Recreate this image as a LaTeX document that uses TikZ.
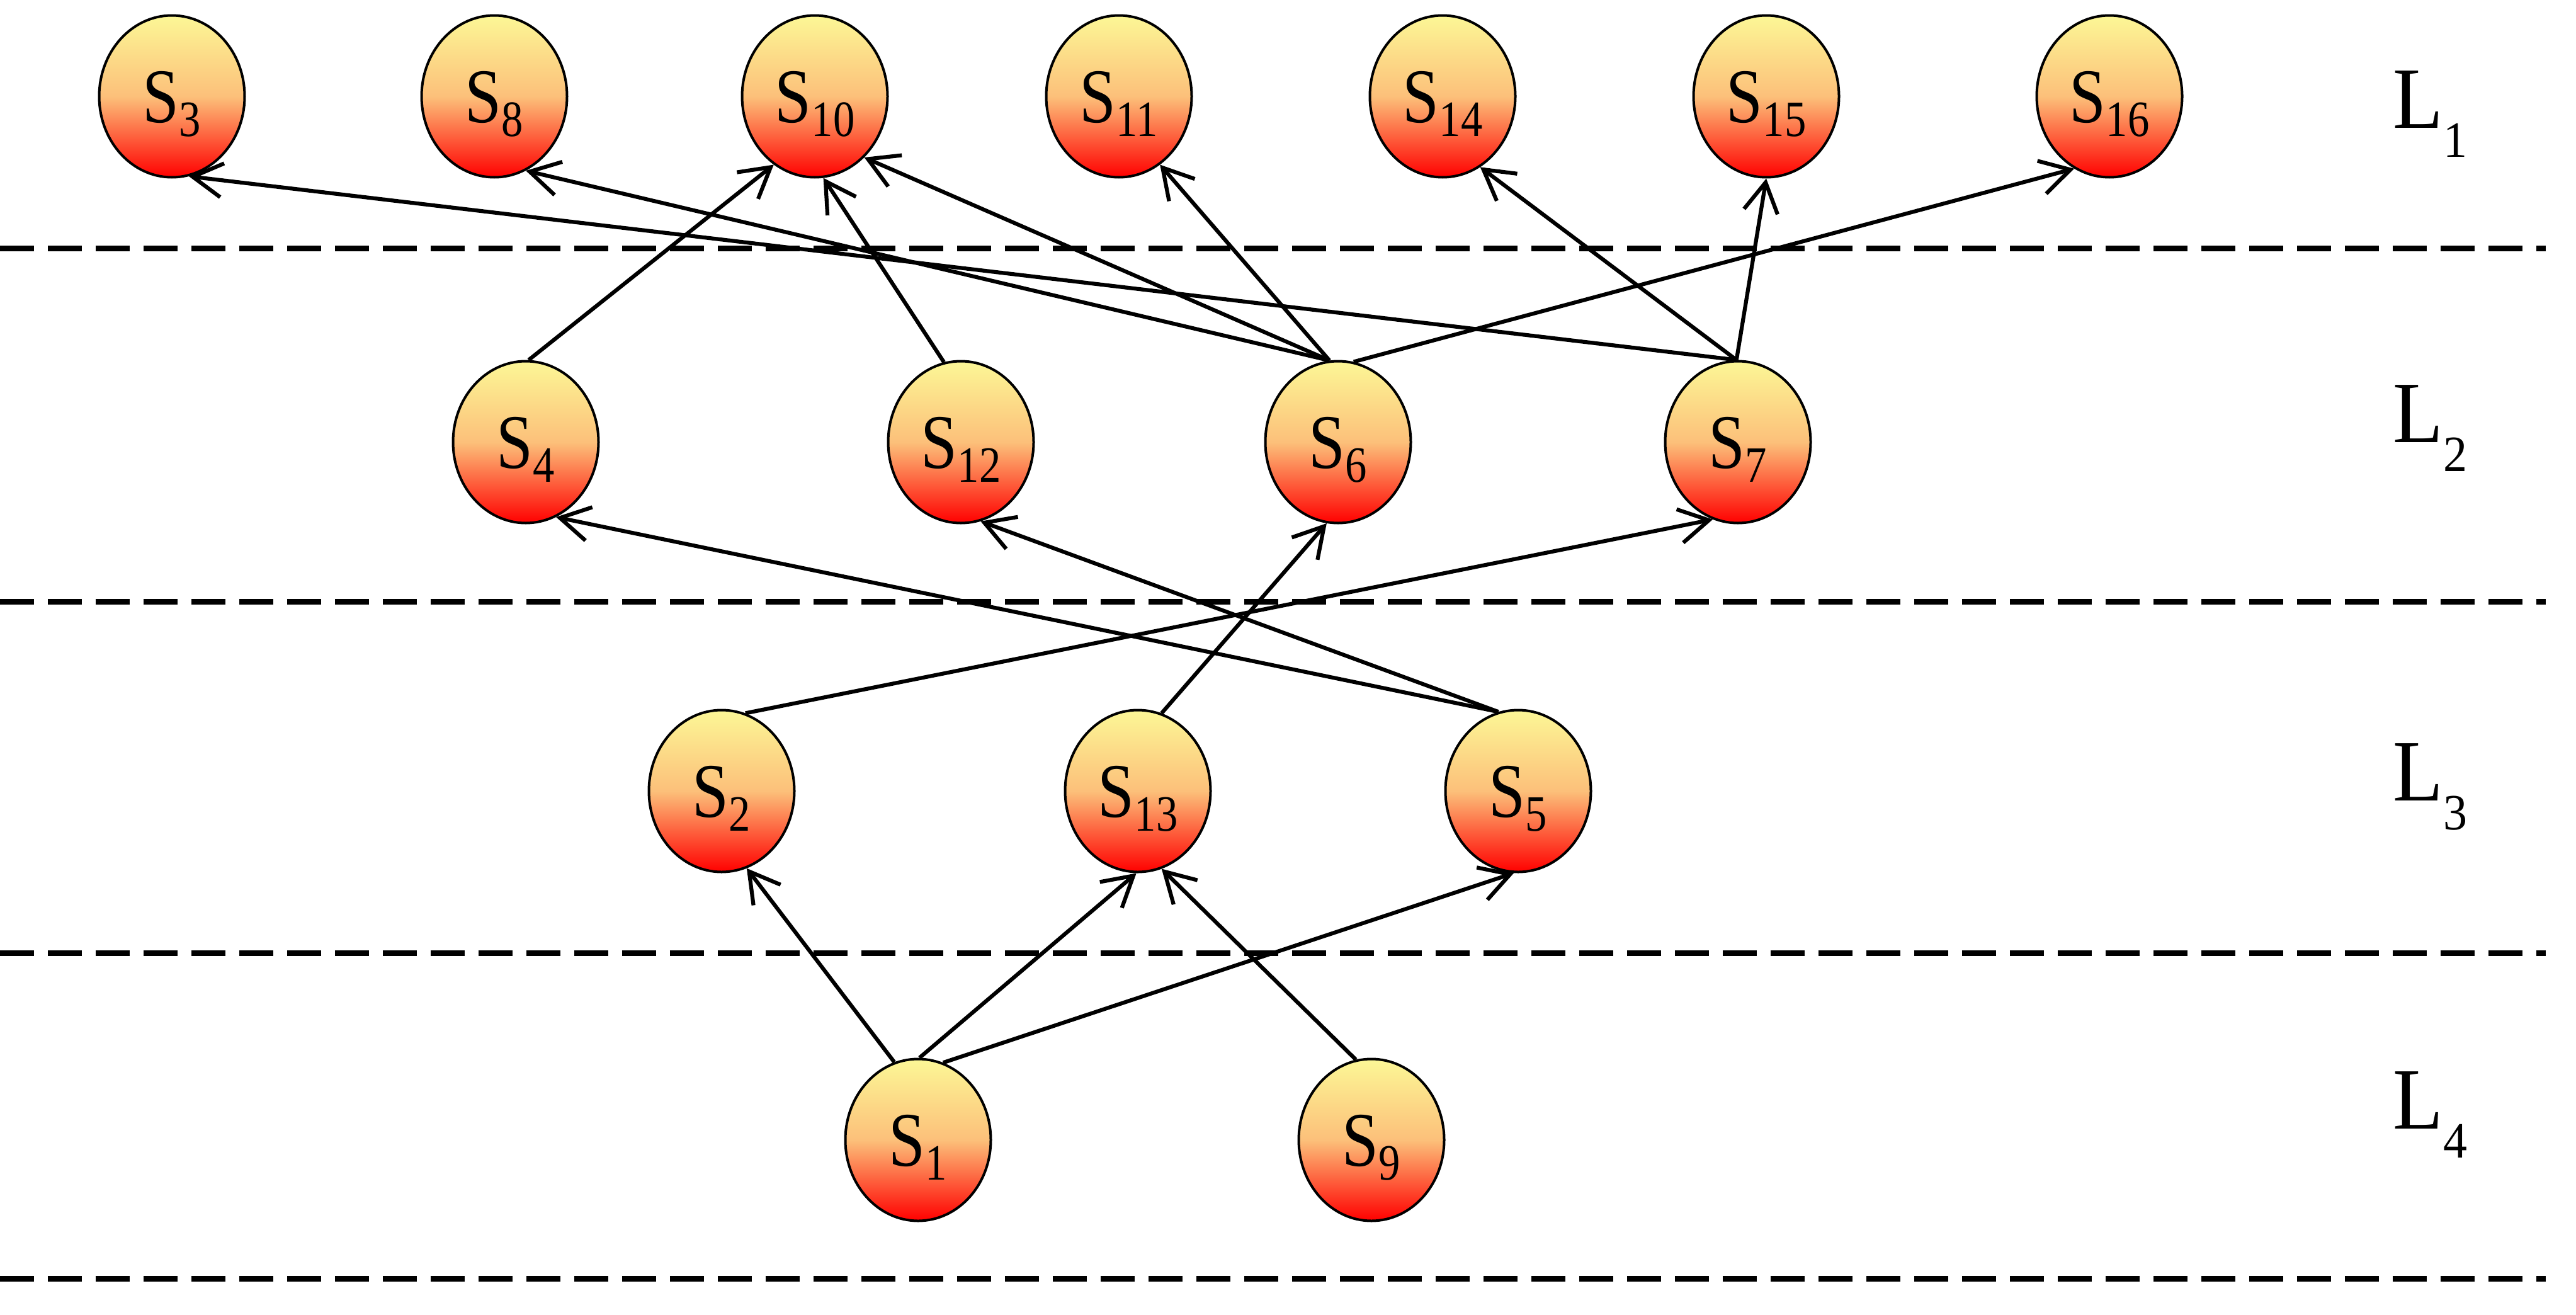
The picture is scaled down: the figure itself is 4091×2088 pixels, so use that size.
\documentclass[tikz,border=0pt]{standalone}
\usepackage{fontspec}
\setmainfont{Liberation Serif}
\newfontfamily\nodefont[FakeStretch=0.85]{Liberation Serif}
\newfontfamily\labfont[FakeStretch=0.94]{Liberation Serif}
\usetikzlibrary{arrows.meta,shapes.geometric}
\definecolor{topc}{RGB}{252,247,150}
\definecolor{midc}{RGB}{252,192,122}
\definecolor{botc}{RGB}{255,0,0}
\newcommand{\stsub}[1]{S\raisebox{-2.2mm}{\fontsize{23pt}{24pt}\selectfont #1}}
\newcommand{\lysub}[1]{L\raisebox{-4.6mm}{\fontsize{23pt}{24pt}\selectfont #1}}
\tikzset{
  state/.style={ellipse, draw=black, line width=0.4mm,
    minimum width=23.1mm, minimum height=25.7mm, inner sep=0pt,
    text height=8.3mm, text depth=0pt,
    top color=topc, bottom color=botc, middle color=midc,
    font=\nodefont\fontsize{34.9pt}{36pt}\selectfont},
  edgearrow/.style={-{Straight Barb[length=4.7mm,width=5.4mm]}, line width=0.62mm},
  layerline/.style={dash pattern=on 5.4mm off 2.2mm, line width=0.9mm},
  layerlab/.style={anchor=base west, inner sep=0pt,
    font=\labfont\fontsize{39.5pt}{40pt}\selectfont}
}
\begin{document}
\begin{tikzpicture}[x=0.1mm,y=-0.1mm]
\useasboundingbox (0,0) rectangle (4091,2088);

% layer separators
\coordinate (d1a) at (0,394);  \coordinate (d1b) at (4043,394);
\coordinate (d2a) at (0,955);  \coordinate (d2b) at (4043,955);
\coordinate (d3a) at (0,1513); \coordinate (d3b) at (4043,1513);
\coordinate (d4a) at (0,2030); \coordinate (d4b) at (4043,2030);
\draw[layerline] (d1a) -- (d1b);
\draw[layerline] (d2a) -- (d2b);
\draw[layerline] (d3a) -- (d3b);
\draw[layerline] (d4a) -- (d4b);

% layer labels
\node[layerlab] (L1) at (3800,203)  {\lysub{1}};
\node[layerlab] (L2) at (3800,702)  {\lysub{2}};
\node[layerlab] (L3) at (3800,1271) {\lysub{3}};
\node[layerlab] (L4) at (3800,1792) {\lysub{4}};

% L1 nodes
\node[state] (S3)  at (273,153)  {\stsub{3}};
\node[state] (S8)  at (785,153)  {\stsub{8}};
\node[state] (S10) at (1294,153) {\stsub{10}};
\node[state] (S11) at (1777,153) {\stsub{11}};
\node[state] (S14) at (2291,153) {\stsub{14}};
\node[state] (S15) at (2805,153) {\stsub{15}};
\node[state] (S16) at (3350,153) {\stsub{16}};
% L2 nodes
\node[state] (S4)  at (835,702)  {\stsub{4}};
\node[state] (S12) at (1526,702) {\stsub{12}};
\node[state] (S6)  at (2125,702) {\stsub{6}};
\node[state] (S7)  at (2760,702) {\stsub{7}};
% L3 nodes
\node[state] (S2)  at (1146,1256) {\stsub{2}};
\node[state] (S13) at (1807,1256) {\stsub{13}};
\node[state] (S5)  at (2411,1256) {\stsub{5}};
% L4 nodes
\node[state] (S1)  at (1458,1810) {\stsub{1}};
\node[state] (S9)  at (2178,1810) {\stsub{9}};

% edges
\draw[edgearrow] (S7.91)   -- (S3.-78);
\draw[edgearrow] (S7.91)   -- (S14.-62);
\draw[edgearrow] (S7.91)   -- (S15.-90);
\draw[edgearrow] (S6.96)   -- (S8.-67);
\draw[edgearrow] (S6.96)   -- (S10.-51);
\draw[edgearrow] (S6.96)   -- (S11.-59);
\draw[edgearrow] (S6.79)   -- (S16.-116);
\draw[edgearrow] (S4.88)   -- (S10.-121);
\draw[edgearrow] (S12.102) -- (S10.-84);
\draw[edgearrow] (S2.73)   -- (S7.-108);
\draw[edgearrow] (S5.104)  -- (S4.-68);
\draw[edgearrow] (S5.104)  -- (S12.-76);
\draw[edgearrow] (S13.73)  -- (S6.-98);
\draw[edgearrow] (S1.107)  -- (S2.-72);
\draw[edgearrow] (S1.89)   -- (S13.-91);
\draw[edgearrow] (S1.72)   -- (S5.-93);
\draw[edgearrow] (S9.101)  -- (S13.-73);
\end{tikzpicture}
\end{document}
